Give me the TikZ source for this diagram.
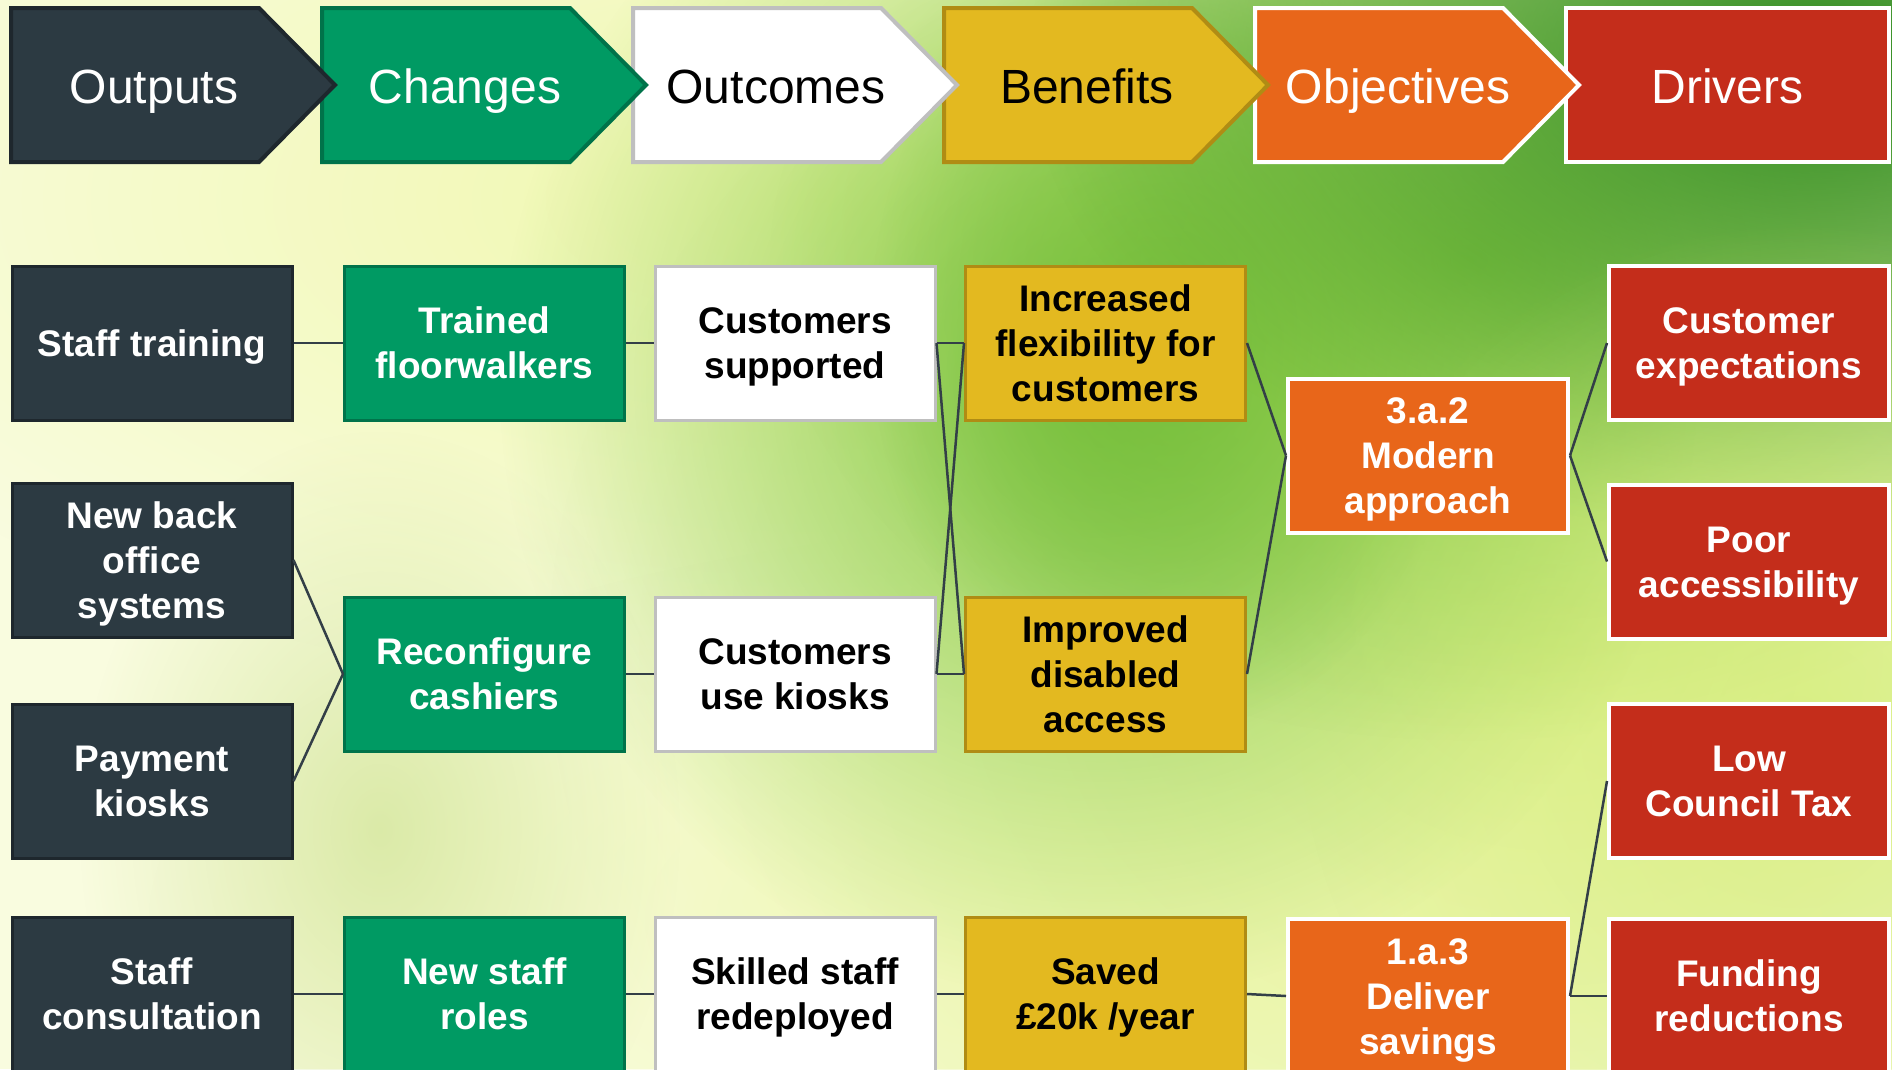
\documentclass[tikz,border=0pt]{standalone}
\usepackage{fontspec}
\setmainfont{Liberation Sans}
\usetikzlibrary{fadings}
\definecolor{bgbase}{HTML}{F9FCDF}
\definecolor{darkfill}{HTML}{2C3A42}
\definecolor{darkedge}{HTML}{1E272D}
\definecolor{greenfill}{HTML}{009A63}
\definecolor{greenedge}{HTML}{00734A}
\definecolor{whiteedge}{HTML}{BFBFBF}
\definecolor{yellowfill}{HTML}{E3B920}
\definecolor{yellowedge}{HTML}{B08C14}
\definecolor{orangefill}{HTML}{E8661A}
\definecolor{redfill}{HTML}{C42D1B}
\definecolor{linecol}{HTML}{333F47}
\definecolor{bgyellow}{HTML}{EEF7A0}
\definecolor{bgyg}{HTML}{D2EC72}
\definecolor{bggreen}{HTML}{7CC640}
\definecolor{bggreen2}{HTML}{86C940}
\definecolor{bgdeep}{HTML}{5DAE2E}
\definecolor{bgdark}{HTML}{2E8A1E}
\definecolor{bgleft}{HTML}{C8DF88}
\tikzfading[name=blobfade, inner color=transparent!0, outer color=transparent!100]
\newcommand\ts{\rule{0pt}{40pt}}
\newcommand\bst{\rule[-13.5pt]{0pt}{13.5pt}}
\newcommand\hdrchev[6]{%
  \filldraw[fill=#3, draw=#4, line width=4pt, line join=miter] (#2,8) -- ++(248,0) -- ++(76,77) -- ++(-76,77) -- ++(-248,0) -- cycle;
  \node[hdrtext, text=#5] (#1) at (#2+143,103) {#6};
}
\newcommand\blob[6]{%
  \fill[#5, fill opacity=#6, path fading=blobfade] (#1,#2) ellipse [x radius=#3pt, y radius=#4pt];
}
\begin{document}
\begin{tikzpicture}[x=1pt,y=-1pt,
  hdrtext/.style={anchor=base, inner sep=0pt, font=\fontsize{48}{58}\selectfont},
  box/.style={rectangle, minimum width=280pt, minimum height=154pt, inner sep=0pt, align=center,
    line width=3pt, font=\bfseries\fontsize{37}{45}\selectfont},
  dbox/.style={box, fill=darkfill, draw=darkedge, text=white},
  gbox/.style={box, fill=greenfill, draw=greenedge, text=white},
  wbox/.style={box, fill=white, draw=whiteedge, text=black},
  ybox/.style={box, fill=yellowfill, draw=yellowedge, text=black},
  obox/.style={box, fill=orangefill, draw=white, text=white, line width=4pt},
  rbox/.style={box, fill=redfill, draw=white, text=white, line width=4pt},
  conn/.style={draw=linecol, line width=2.5pt}]
\useasboundingbox (0,0) rectangle (1892,1069);
\clip (0,0) rectangle (1892,1069);
% background
\fill[bgbase] (0,0) rectangle (1892,1069);
\blob{820}{200}{1100}{500}{bgyellow}{0.8}
\blob{1550}{650}{1000}{800}{bgyg}{0.75}
\blob{1150}{920}{1000}{400}{bgyellow}{0.5}
\blob{380}{830}{300}{400}{bgleft}{0.6}
\blob{1100}{380}{600}{620}{bggreen}{0.9}
\blob{1170}{330}{300}{400}{bgdeep}{0.7}
\blob{1470}{260}{700}{480}{bggreen2}{0.85}
\blob{1830}{60}{800}{480}{bgdark}{1}
\blob{1800}{720}{500}{500}{bgyg}{0.6}
% header (drawn right to left so tips overlap)
\filldraw[fill=redfill, draw=white, line width=4pt] (1566,8) rectangle (1889,162);
\node[hdrtext, text=white] (hdr) at (1727.5,103) {Drivers};
\hdrchev{hob}{1255}{orangefill}{white}{white}{Objectives}
\hdrchev{hbe}{944}{yellowfill}{yellowedge}{black}{Benefits}
\hdrchev{hoc}{633}{white}{whiteedge}{black}{Outcomes}
\hdrchev{hch}{322}{greenfill}{greenedge}{white}{Changes}
\hdrchev{hou}{11}{darkfill}{darkedge}{white}{Outputs}
% column 1
\node[dbox] (st) at (152,343) {\ts Staff training\bst};
\node[dbox] (nbo) at (152,560) {\ts New back\\office\\systems\bst};
\node[dbox] (pk) at (152,781) {\ts Payment\\kiosks\bst};
\node[dbox] (sc) at (152,994) {\ts Staff\\consultation\bst};
% column 2
\node[gbox] (tf) at (484.5,343) {\ts Trained\\floorwalkers\bst};
\node[gbox] (rc) at (484.5,674) {\ts Reconfigure\\cashiers\bst};
\node[gbox] (nsr) at (484.5,994) {\ts New staff\\roles\bst};
% column 3
\node[wbox] (cs) at (795,343) {\ts Customers\\supported\bst};
\node[wbox] (ck) at (795,674) {\ts Customers\\use kiosks\bst};
\node[wbox] (ssr) at (795,994) {\ts Skilled staff\\redeployed\bst};
% column 4
\node[ybox] (ifc) at (1105.5,343) {\ts Increased\\flexibility for\\customers\bst};
\node[ybox] (ida) at (1105.5,674) {\ts Improved\\disabled\\access\bst};
\node[ybox] (sav) at (1105.5,994) {\ts Saved\\£20k /year\bst};
% column 5
\node[obox] (ma) at (1428,455.5) {\ts 3.a.2\\Modern\\approach\bst};
\node[obox] (ds) at (1428,996) {\ts 1.a.3\\Deliver\\savings\bst};
% column 6
\node[rbox] (ce) at (1749,343) {\ts Customer\\expectations\bst};
\node[rbox] (pa) at (1749,561.5) {\ts Poor\\accessibility\bst};
\node[rbox] (lct) at (1749,781) {\ts Low\\Council Tax\bst};
\node[rbox] (fr) at (1749,996) {\ts Funding\\reductions\bst};
% connectors
\draw[conn] (st.east) -- (tf.west);
\draw[conn] (nbo.east) -- (rc.west);
\draw[conn] (pk.east) -- (rc.west);
\draw[conn] (sc.east) -- (nsr.west);
\draw[conn] (tf.east) -- (cs.west);
\draw[conn] (rc.east) -- (ck.west);
\draw[conn] (nsr.east) -- (ssr.west);
\draw[conn] (cs.east) -- (ifc.west);
\draw[conn] (cs.east) -- (ida.west);
\draw[conn] (ck.east) -- (ifc.west);
\draw[conn] (ck.east) -- (ida.west);
\draw[conn] (ssr.east) -- (sav.west);
\draw[conn] (ifc.east) -- (ma.west);
\draw[conn] (ida.east) -- (ma.west);
\draw[conn] (sav.east) -- (ds.west);
\draw[conn] (ma.east) -- (ce.west);
\draw[conn] (ma.east) -- (pa.west);
\draw[conn] (ds.east) -- (lct.west);
\draw[conn] (ds.east) -- (fr.west);
\end{tikzpicture}
\end{document}
